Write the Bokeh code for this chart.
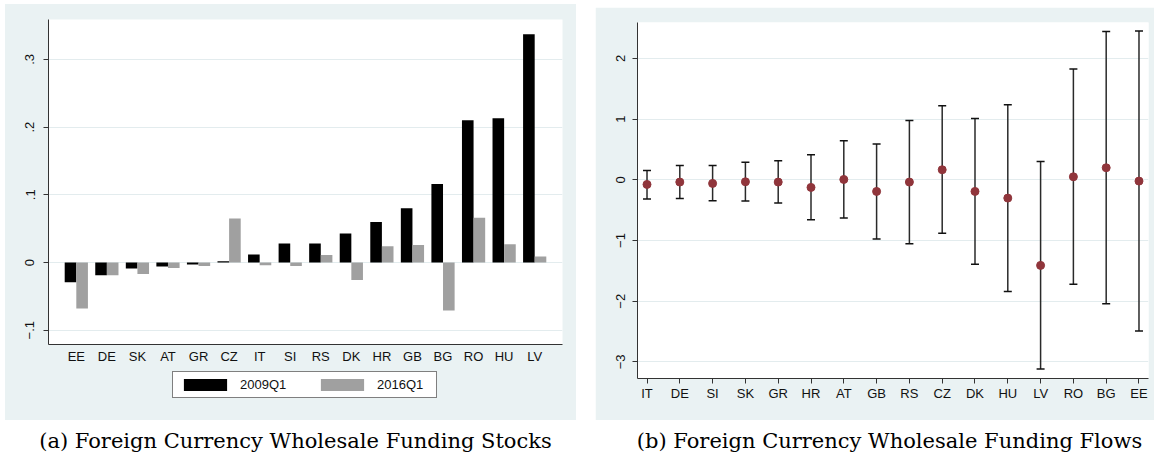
from bokeh.plotting import figure
from bokeh.models import (Range1d, FixedTicker, ColumnDataSource, Legend, LegendItem,
                          Whisker, TeeHead, Div, Spacer)
from bokeh.layouts import row, column
from bokeh.transform import dodge
from bokeh.embed import file_html
from bokeh.resources import INLINE

# ---------------- data ----------------
stock_countries = ["EE", "DE", "SK", "AT", "GR", "CZ", "IT", "SI",
                   "RS", "DK", "HR", "GB", "BG", "RO", "HU", "LV"]
stock_2009q1 = [-0.029, -0.019, -0.009, -0.006, -0.003, 0.002, 0.012, 0.028,
                0.028, 0.043, 0.060, 0.080, 0.116, 0.210, 0.213, 0.337]
stock_2016q1 = [-0.068, -0.019, -0.017, -0.008, -0.005, 0.065, -0.004, -0.005,
                0.011, -0.026, 0.024, 0.026, -0.071, 0.066, 0.027, 0.009]
stock_series = ["2009Q1", "2016Q1"]
stock_yticks = [-0.1, 0.0, 0.1, 0.2, 0.3]
stock_ylabels = ["\u2212.1", "0", ".1", ".2", ".3"]

flow_countries = ["IT", "DE", "SI", "SK", "GR", "HR", "AT", "GB",
                  "RS", "CZ", "DK", "HU", "LV", "RO", "BG", "EE"]
flow_est = [-0.077, -0.038, -0.060, -0.033, -0.038, -0.126, 0.005, -0.192,
            -0.038, 0.165, -0.192, -0.302, -1.410, 0.049, 0.198, -0.022]
flow_upper = [0.153, 0.236, 0.236, 0.290, 0.313, 0.412, 0.643, 0.588,
              0.977, 1.219, 1.010, 1.236, 0.302, 1.823, 2.443, 2.450]
flow_lower = [-0.318, -0.308, -0.346, -0.351, -0.384, -0.659, -0.631, -0.975,
              -1.054, -0.879, -1.390, -1.840, -3.116, -1.719, -2.043, -2.490]
flow_yticks = [-3, -2, -1, 0, 1, 2]
flow_ylabels = ["\u22123", "\u22122", "\u22121", "0", "1", "2"]

caption_a = "(a) Foreign Currency Wholesale Funding Stocks"
caption_b = "(b) Foreign Currency Wholesale Funding Flows"

# ---------------- style ----------------
BG = "#EAF2F3"
GRID = "#E3ECEE"
AXIS = "#333333"
FONT = "Liberation Sans"
FS = "13px"
C_A = "#000000"
C_B = "#A0A0A0"


def style_axes(p):
    for ax in (p.xaxis[0], p.yaxis[0]):
        ax.axis_line_color = AXIS
        ax.axis_line_width = 1
        ax.major_tick_line_color = AXIS
        ax.major_tick_out = 5
        ax.major_tick_in = 0
        ax.minor_tick_line_color = None
        ax.major_label_text_font = FONT
        ax.major_label_text_font_size = FS
        ax.major_label_text_color = "#111111"
    p.yaxis[0].major_label_orientation = "vertical"
    p.xgrid.visible = False
    p.ygrid.grid_line_color = GRID
    p.ygrid.grid_line_width = 1


# ---------------- panel (a) ----------------
xs1 = list(range(len(stock_countries)))
src1 = ColumnDataSource(dict(x=xs1, a=stock_2009q1, b=stock_2016q1))

p1 = figure(width=571, height=362, x_range=Range1d(-0.91, 15.91),
            y_range=Range1d(-0.1211, 0.3589), output_backend="svg",
            toolbar_location=None, min_border_left=43, min_border_right=14,
            min_border_top=15, min_border_bottom=21, border_fill_color=BG,
            background_fill_color="white", outline_line_color=None)
p1.vbar(x=dodge("x", -0.19, range=p1.x_range), top="a", bottom=0, width=0.38,
        source=src1, fill_color=C_A, line_color=None)
p1.vbar(x=dodge("x", 0.19, range=p1.x_range), top="b", bottom=0, width=0.38,
        source=src1, fill_color=C_B, line_color=None)
style_axes(p1)
p1.xaxis.ticker = FixedTicker(ticks=xs1)
p1.xaxis.major_label_overrides = {i: c for i, c in zip(xs1, stock_countries)}
p1.xaxis.major_tick_out = 0
p1.xaxis.major_label_standoff = 4
p1.yaxis.ticker = FixedTicker(ticks=stock_yticks)
p1.ygrid.ticker = FixedTicker(ticks=stock_yticks)
p1.yaxis.major_label_overrides = {t: l for t, l in zip(stock_yticks, stock_ylabels)}
p1.yaxis.major_label_standoff = 9

# legend strip under panel (a), same background; its series renderers are
# the same bars, kept out of this strip's (empty) view
lf = figure(width=571, height=54, x_range=Range1d(0, 1), y_range=Range1d(10, 11),
            output_backend="svg", toolbar_location=None, min_border=0,
            border_fill_color=BG, background_fill_color=BG,
            outline_line_color=None, x_axis_type=None, y_axis_type=None)
lf.grid.visible = False
ra = lf.vbar(x="x", top="a", bottom=0, width=0.38, source=src1,
             fill_color=C_A, line_color=None)
rb = lf.vbar(x="x", top="b", bottom=0, width=0.38, source=src1,
             fill_color=C_B, line_color=None)
legend = Legend(items=[LegendItem(label=stock_series[0], renderers=[ra]),
                       LegendItem(label=stock_series[1], renderers=[rb])],
                orientation="horizontal", location=(124, 22),
                glyph_width=54, glyph_height=15, label_height=15, label_width=54,
                label_standoff=8, spacing=21, padding=5, margin=0,
                border_line_color="#000000", border_line_width=1.2,
                background_fill_color="white", background_fill_alpha=1.0,
                label_text_font=FONT, label_text_font_size=FS,
                label_text_color="#111111")
lf.add_layout(legend, "center")

# ---------------- panel (b) ----------------
xs2 = list(range(len(flow_countries)))
src2 = ColumnDataSource(dict(x=xs2, est=flow_est, upper=flow_upper, lower=flow_lower))

p2 = figure(width=559, height=413, x_range=Range1d(-0.29, 15.29),
            y_range=Range1d(-3.273, 2.59), output_backend="svg",
            toolbar_location=None, min_border_left=42, min_border_right=6,
            min_border_top=15, min_border_bottom=42, border_fill_color=BG,
            background_fill_color="white", outline_line_color=None)
style_axes(p2)
whisk = Whisker(source=src2, base="x", upper="upper", lower="lower",
                line_color="#2A2A2A", line_width=1.5,
                upper_head=TeeHead(size=8, line_color="#111111", line_width=1.5),
                lower_head=TeeHead(size=8, line_color="#111111", line_width=1.5))
p2.add_layout(whisk)
p2.scatter(x="x", y="est", source=src2, size=8, fill_color="#90353B",
           line_color="#90353B")
p2.xaxis.ticker = FixedTicker(ticks=xs2)
p2.xaxis.major_label_overrides = {i: c for i, c in zip(xs2, flow_countries)}
p2.xaxis.major_label_standoff = 2
p2.yaxis.ticker = FixedTicker(ticks=flow_yticks)
p2.ygrid.ticker = FixedTicker(ticks=flow_yticks)
p2.yaxis.major_label_overrides = {t: l for t, l in zip(flow_yticks, flow_ylabels)}
p2.yaxis.major_label_standoff = 7

# ---------------- captions ----------------
cap_style = {"font-family": "DejaVu Serif", "font-size": "21px",
             "text-align": "center", "line-height": "32px", "color": "#000000"}
cap1 = Div(text=caption_a, width=571, height=44, styles=cap_style)
cap2 = Div(text=caption_b, width=559, height=44, styles=cap_style)

left_col = column(p1, lf, spacing=0, styles={"background-color": BG})
right_col = column(Spacer(width=559, height=3), p2, spacing=0)
top_row = row(Spacer(width=5, height=416), left_col, Spacer(width=19, height=416),
              right_col, spacing=0)
cap_row = row(Spacer(width=5, height=44), cap1, Spacer(width=19, height=44), cap2,
              spacing=0)
root = column(Spacer(width=1154, height=4), top_row, cap_row, spacing=0)

open("out.html", "w").write(file_html(root, INLINE))
